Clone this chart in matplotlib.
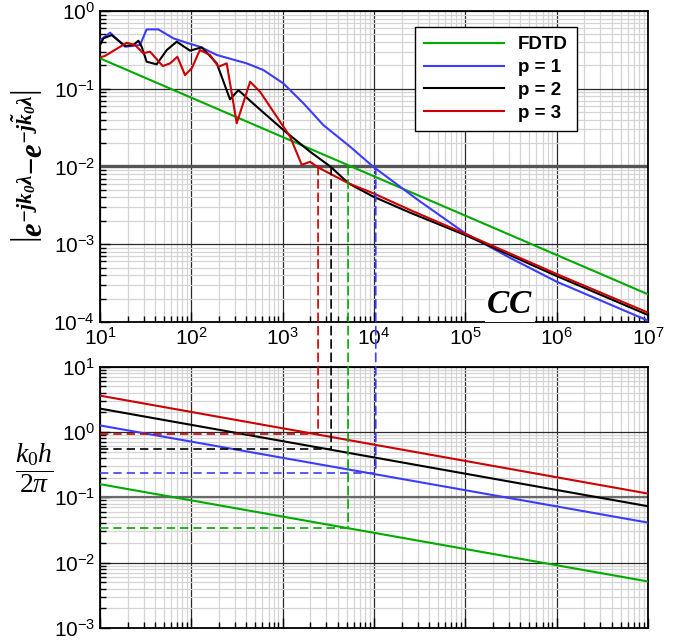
import matplotlib.pyplot as plt
from matplotlib.patches import ConnectionPatch
from matplotlib.ticker import LogLocator, NullFormatter

plt.rcParams['font.family'] = ['Liberation Sans', 'DejaVu Sans']
plt.rcParams['mathtext.fontset'] = 'custom'
plt.rcParams['mathtext.rm'] = 'Liberation Serif'
plt.rcParams['mathtext.it'] = 'Liberation Serif:italic'
plt.rcParams['mathtext.bf'] = 'Liberation Serif:bold'
plt.rcParams['mathtext.bfit'] = 'Liberation Serif:bold:italic'
plt.rcParams['axes.unicode_minus'] = False

# error curves
cc_fdtd = [10, 1e7]
err_fdtd = [0.246, 2.27e-4]

cc_p1 = [10, 12.9, 18.8, 27.4, 32.4, 43.5, 63.6, 89, 124, 190, 404, 615, 1018,
         1687, 2795, 5470, 9840, 3.0e4, 1e5, 3.0e5, 1e6, 1e7]
err_p1 = [0.42, 0.526, 0.347, 0.365, 0.58, 0.58, 0.445, 0.39, 0.347, 0.272, 0.212,
          0.174, 0.117, 0.065, 0.034, 0.018, 0.0099, 3.74e-3, 1.38e-3, 6.8e-4,
          3.3e-4, 1.04e-4]

cc_p2 = [10, 10.9, 13.4, 18.8, 23.2, 26.3, 28.6, 32.4, 41.7, 53.8, 69.2, 96.8, 130,
         190, 265, 327, 520, 1018, 1995, 3360, 5250, 9840, 24800, 1e5, 1e6, 1e7]
err_p2 = [0.365, 0.445, 0.49, 0.355, 0.365, 0.415, 0.347, 0.223, 0.206, 0.315,
          0.403, 0.309, 0.341, 0.212, 0.073, 0.096, 0.0588, 0.0295, 0.0155,
          0.0099, 6.08e-3, 4.09e-3, 2.55e-3, 1.31e-3, 3.9e-4, 1.23e-4]

cc_p3 = [10, 11.3, 19.6, 24.2, 29.8, 35.3, 48.6, 58.5, 70.3, 85.3, 101, 124, 160,
         198, 244, 314, 440, 565, 861, 1205, 1618, 1995, 2420, 5250, 9840, 24800,
         1e5, 1e6, 1e7]
err_p3 = [0.254, 0.264, 0.39, 0.365, 0.286, 0.30, 0.196, 0.212, 0.258, 0.150,
          0.183, 0.315, 0.272, 0.192, 0.212, 0.036, 0.123, 0.0916, 0.0437, 0.0242,
          0.0105, 0.0115, 0.0098, 6.08e-3, 4.52e-3, 2.76e-3, 1.36e-3, 4.14e-4,
          1.32e-4]

# k0 h / 2pi curves
kh_cc = [10, 1e7]
kh_fdtd = [0.159, 0.00515]
kh_p1 = [1.26, 0.041]
kh_p2 = [2.28, 0.073]
kh_p3 = [3.6, 0.114]

labels = ['FDTD', 'p = 1', 'p = 2', 'p = 3']
colors = ['#00aa00', '#3c3cff', '#000000', '#cc0000']

# CC where error reaches 1e-2, and the matching k0 h / 2pi
err_level = 1e-2
cross_cc = [5200, 10450, 3390, 2440]
cross_kh = [0.034, 0.235, 0.55, 0.92]

fig = plt.figure(figsize=(6.86, 6.4), dpi=100)
ax1 = fig.add_axes([0.1458, 0.4969, 0.7988, 0.4859])
ax2 = fig.add_axes([0.1458, 0.0188, 0.7988, 0.4083])


def style_axis(ax, ylim):
    ax.set_xscale('log')
    ax.set_yscale('log')
    ax.set_xlim(10, 1e7)
    ax.set_ylim(*ylim)
    ax.xaxis.set_major_locator(LogLocator(base=10, numticks=20))
    ax.yaxis.set_major_locator(LogLocator(base=10, numticks=20))
    ax.xaxis.set_minor_locator(LogLocator(base=10, subs=range(2, 10), numticks=50))
    ax.yaxis.set_minor_locator(LogLocator(base=10, subs=range(2, 10), numticks=50))
    ax.yaxis.set_minor_formatter(NullFormatter())
    ax.xaxis.set_minor_formatter(NullFormatter())
    ax.grid(which='minor', color='#d4d4d4', lw=0.9, zorder=0)
    ax.grid(which='major', color='#2a2a2a', lw=0.9, zorder=0)
    ax.set_axisbelow(True)
    ax.tick_params(which='both', direction='in', top=False, right=False,
                   labelsize=15, width=1.0)
    ax.tick_params(which='major', length=7)
    ax.tick_params(which='minor', length=4)
    for s in ax.spines.values():
        s.set_linewidth(1.3)


style_axis(ax1, (1e-4, 1))
style_axis(ax2, (1e-3, 10))
ax2.tick_params(axis='x', labelbottom=False)

ax1.axhline(err_level, color='#555555', lw=2.4, zorder=1)
ax2.axhline(0.1, color='#6a6a6a', lw=1.6, zorder=1)

ax1.plot(cc_fdtd, err_fdtd, color=colors[0], lw=1.5, label=labels[0], zorder=3)
ax1.plot(cc_p1, err_p1, color=colors[1], lw=1.5, label=labels[1], zorder=3)
ax1.plot(cc_p2, err_p2, color=colors[2], lw=1.5, label=labels[2], zorder=3)
ax1.plot(cc_p3, err_p3, color=colors[3], lw=1.5, label=labels[3], zorder=3)

for kh, c in zip([kh_fdtd, kh_p1, kh_p2, kh_p3], colors):
    ax2.plot(kh_cc, kh, color=c, lw=1.5, zorder=3)

dash = (0, (5, 3))
for x, y, c in zip(cross_cc, cross_kh, colors):
    con = ConnectionPatch(xyA=(x, err_level), coordsA=ax1.transData,
                          xyB=(x, y), coordsB=ax2.transData,
                          color=c, lw=1.2, linestyle=dash, zorder=4)
    fig.add_artist(con)
    ax2.plot([10, x], [y, y], color=c, lw=1.2, linestyle=dash, zorder=4)

leg = ax1.legend(loc='upper right', bbox_to_anchor=(0.870, 0.949),
                 prop={'weight': 'bold', 'size': 13.5}, handlelength=4.27,
                 handletextpad=0.7, labelspacing=0.3, borderpad=0.5,
                 borderaxespad=0, fancybox=False, framealpha=1,
                 edgecolor='black')
leg.get_frame().set_linewidth(1.0)

ax1.set_ylabel(r'$\left|\mathbfit{e^{-jk_0\lambda}}\mathbf{-}\mathbfit{e^{-j\tilde{k}_0\lambda}}\right|$',
               fontsize=22)
ax1.yaxis.set_label_coords(-0.092, 0.5)

ax1.text(0.748, 0.005, r'$\mathbfit{CC}$', transform=ax1.transAxes, fontsize=24,
         ha='center', va='bottom', zorder=5,
         bbox=dict(facecolor='white', edgecolor='none', pad=1))

ax2.text(-0.12, 0.612, r'$\dfrac{k_0h}{2\pi}$', transform=ax2.transAxes,
         fontsize=20, ha='center', va='center')

fig.savefig('out.png', dpi=100)
